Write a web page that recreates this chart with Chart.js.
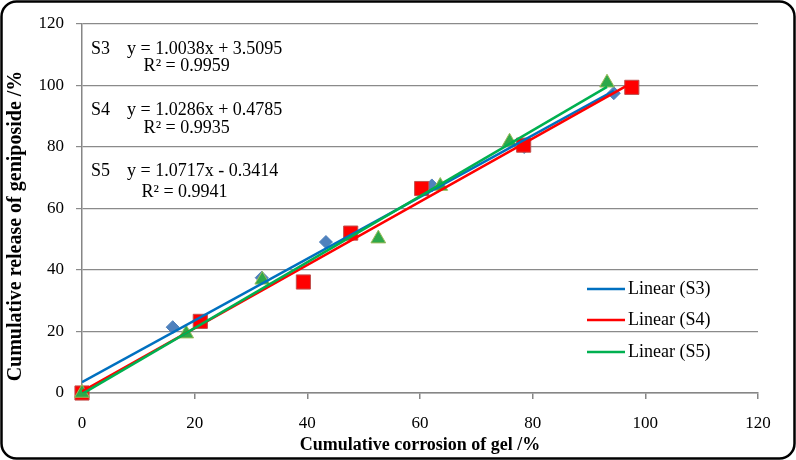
<!DOCTYPE html>
<html>
<head>
<meta charset="utf-8">
<script src="https://cdn.jsdelivr.net/npm/chart.js@4.4.0/dist/chart.umd.min.js"></script>
<style>
  html, body { margin: 0; padding: 0; background: #fff; }
  #wrap { position: relative; width: 796px; height: 460px; }
</style>
</head>
<body>
<div id="wrap"><canvas id="corrosionChart"></canvas></div>
<script>
// cumulative corrosion of gel (x, %) vs cumulative release of geniposide (y, %)
var seriesNames = ['S3', 'S4', 'S5'];

var s3X = [0, 16.1, 31.9, 43.3, 62.1, 78.5, 94.4];
var s3Y = [0, 21.4, 37.5, 49.1, 67.5, 80.0, 97.5];
var s4X = [0, 21.0, 39.3, 47.7, 60.3, 78.4, 97.6];
var s4Y = [0, 23.3, 36.1, 52.0, 66.5, 80.6, 99.4];
var s5X = [0, 18.5, 32.0, 52.6, 63.6, 75.9, 93.2];
var s5Y = [0, 19.3, 36.8, 50.2, 67.3, 81.7, 100.9];

// trendlines as printed on the chart
var slopes = [1.0038, 1.0286, 1.0717];
var intercepts = [3.5095, 0.4785, -0.3414];
var rSquared = [0.9959, 0.9935, 0.9941];

var xTicks = [0, 20, 40, 60, 80, 100, 120];
var yTicks = [0, 20, 40, 60, 80, 100, 120];

var xTitle = 'Cumulative corrosion of gel /%';
var yTitle = 'Cumulative release of geniposide /%';

var allX = [s3X, s4X, s5X];
var allY = [s3Y, s4Y, s5Y];

var lineColors = ['#0070C0', '#FF0000', '#00B050'];
var markerStyles = [
    { pointStyle: 'rectRot', radius: 6.5, bg: '#4F81BD', border: '#4F81BD' },
    { pointStyle: 'rect', radius: 10, bg: '#FF0000', border: '#C0504D' },
    { pointStyle: 'triangle', radius: 8.5, bg: '#2EA84A', border: '#9BBB59' }
];

function toPoints(xs, ys) {
    return xs.map(function(x, i) { return { x: x, y: ys[i] }; });
}

var datasets = [];
seriesNames.forEach(function(name, i) {
    var xs = allX[i];
    var lo = Math.min.apply(null, xs), hi = Math.max.apply(null, xs);
    datasets.push({
        label: 'Linear (' + name + ')',
        isTrend: true,
        data: [
            { x: lo, y: slopes[i] * lo + intercepts[i] },
            { x: hi, y: slopes[i] * hi + intercepts[i] }
        ],
        showLine: true,
        borderColor: lineColors[i],
        borderWidth: 2.5,
        pointRadius: 0,
        order: 3 - i
    });
});
seriesNames.forEach(function(name, i) {
    var m = markerStyles[i];
    datasets.push({
        label: name,
        data: toPoints(allX[i], allY[i]),
        pointStyle: m.pointStyle,
        pointRadius: m.radius,
        pointBackgroundColor: m.bg,
        pointBorderColor: m.border,
        pointBorderWidth: 1,
        showLine: false,
        clip: false,
        order: 10 - i
    });
});

var serif = 'Liberation Serif, "Times New Roman", serif';

var framePlugin = {
    id: 'frame',
    beforeDraw: function(chart) {
        var ctx = chart.ctx;
        ctx.save();
        ctx.fillStyle = '#fff';
        ctx.fillRect(0, 0, chart.width, chart.height);
        ctx.beginPath();
        ctx.roundRect(1.5, 1.5, chart.width - 3, chart.height - 3, 15);
        ctx.lineWidth = 2.5;
        ctx.strokeStyle = '#000';
        ctx.stroke();
        // y axis title sits a bit below the plot centre in the original
        ctx.translate(16, 226);
        ctx.rotate(-Math.PI / 2);
        ctx.font = 'bold 20px ' + serif;
        ctx.fillStyle = '#000';
        ctx.textAlign = 'center';
        ctx.textBaseline = 'middle';
        ctx.fillText(yTitle, 0, 0);
        ctx.restore();
    }
};

var equationPlugin = {
    id: 'equations',
    afterDraw: function(chart) {
        var ctx = chart.ctx;
        var rowY = [49, 110, 171.5];
        var r2Y = [66.5, 128, 192];
        ctx.save();
        ctx.font = '18px ' + serif;
        ctx.fillStyle = '#000';
        ctx.textBaseline = 'middle';
        seriesNames.forEach(function(name, i) {
            var b = intercepts[i];
            var eq = 'y = ' + slopes[i].toFixed(4) + 'x ' + (b < 0 ? '- ' : '+ ') + Math.abs(b).toFixed(4);
            ctx.textAlign = 'left';
            ctx.fillText(name, 91, rowY[i]);
            ctx.fillText(eq, 127, rowY[i]);
            var mid = (91 + 127 + ctx.measureText(eq).width) / 2;
            ctx.textAlign = 'center';
            ctx.fillText('R² = ' + rSquared[i].toFixed(4), mid, r2Y[i]);
        });
        ctx.restore();
    }
};

var legendPlugin = {
    id: 'trendLegend',
    afterDraw: function(chart) {
        var ctx = chart.ctx;
        var ys = [289, 320, 352];
        ctx.save();
        ctx.font = '18px ' + serif;
        ctx.textBaseline = 'middle';
        ctx.textAlign = 'left';
        chart.data.datasets.filter(function(d) { return d.isTrend; }).forEach(function(d, i) {
            ctx.strokeStyle = d.borderColor;
            ctx.lineWidth = 2.5;
            ctx.beginPath();
            ctx.moveTo(587, ys[i]);
            ctx.lineTo(625, ys[i]);
            ctx.stroke();
            ctx.fillStyle = '#000';
            ctx.fillText(d.label, 628, ys[i]);
        });
        ctx.restore();
    }
};

var ctx = document.getElementById('corrosionChart').getContext('2d');
new Chart(ctx, {
    type: 'scatter',
    data: { datasets: datasets },
    plugins: [framePlugin, equationPlugin, legendPlugin],
    options: {
        responsive: true,
        maintainAspectRatio: false,
        devicePixelRatio: 1,
        animation: false,
        layout: { padding: { top: 24, right: 38, left: 0, bottom: 0 } },
        plugins: {
            legend: { display: false },
            tooltip: { enabled: false }
        },
        scales: {
            x: {
                type: 'linear',
                min: 0,
                max: 120,
                afterBuildTicks: function(s) { s.ticks = xTicks.map(function(v) { return { value: v }; }); },
                afterFit: function(s) { s.height = 67; },
                grid: { drawOnChartArea: false, drawTicks: true, tickLength: 6, color: '#868686', lineWidth: 1.5 },
                border: { color: '#868686', width: 1.5 },
                ticks: { color: '#000', padding: 14, font: { family: serif, size: 17 } },
                title: {
                    display: true,
                    text: xTitle,
                    color: '#000',
                    padding: { top: 4, bottom: 4 },
                    font: { family: serif, size: 18, weight: 'bold' }
                }
            },
            y: {
                type: 'linear',
                min: 0,
                max: 120,
                afterBuildTicks: function(s) { s.ticks = yTicks.map(function(v) { return { value: v }; }); },
                afterFit: function(s) { s.width = 82; },
                grid: { color: '#8a8a8a', lineWidth: 1.2, tickLength: 6 },
                border: { color: '#868686', width: 1.5 },
                ticks: { color: '#000', padding: 12, font: { family: serif, size: 17 } }
            }
        }
    }
});
</script>
</body>
</html>
